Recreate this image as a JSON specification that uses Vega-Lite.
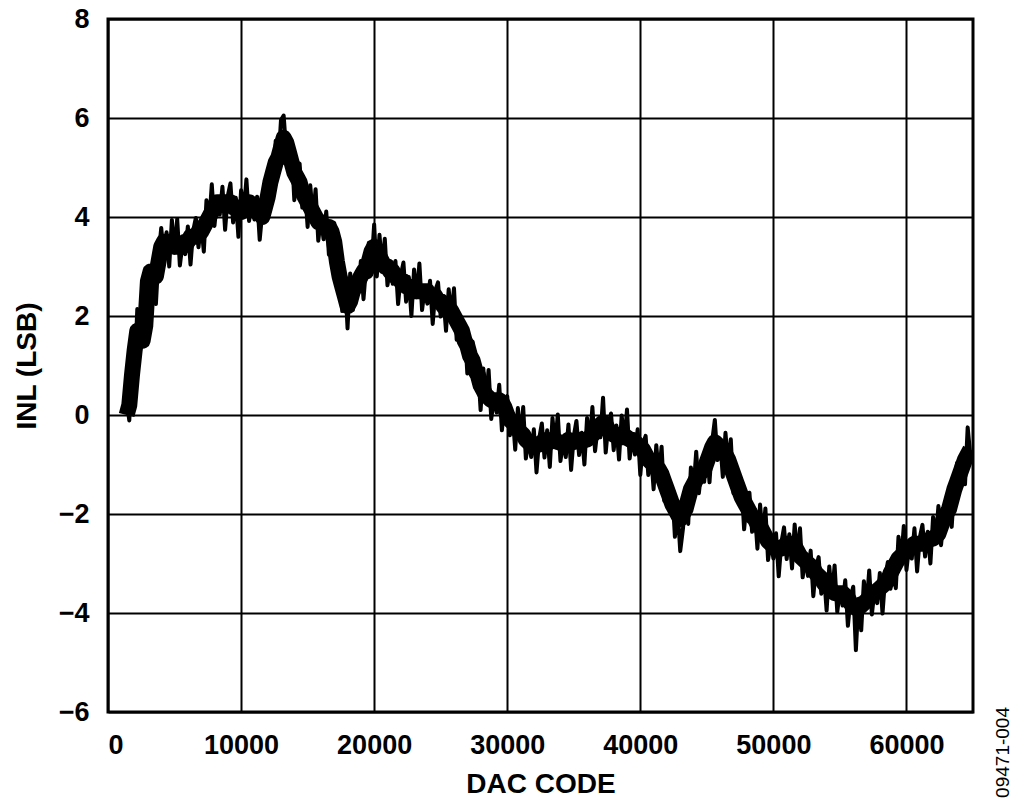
{
  "$schema": "https://vega.github.io/schema/vega-lite/v6.json",
  "width": 865,
  "height": 693,
  "autosize": {"type": "none"},
  "padding": {"left": 108, "top": 19, "right": 51, "bottom": 99},
  "background": "white",
  "title": {"text": "09471-004", "orient": "right", "anchor": "end", "angle": -90, "frame": "group", "align": "right", "baseline": "top", "dx": 5, "font": "Liberation Sans", "fontSize": 19, "fontWeight": "normal", "color": "black", "offset": 2},
  "config": {
    "view": {"stroke": "black", "strokeWidth": 3},
    "axis": {
      "grid": true, "gridColor": "black", "gridWidth": 2, "gridOpacity": 1,
      "domain": false, "ticks": false,
      "labelFont": "Liberation Sans", "labelFontSize": 27, "labelFontWeight": "bold", "labelColor": "black",
      "titleFont": "Liberation Sans", "titleFontSize": 28, "titleFontWeight": "bold", "titleColor": "black"
    }
  },
  "data": {"values": [
    {"x":1400,"t":0.0,"y":0.30},{"x":1600,"t":0.2,"y":-0.11},{"x":1800,"t":0.8,"y":0.99},{"x":2000,"t":1.3,"y":0.80},{"x":2200,"t":1.7,"y":2.14},{"x":2400,"t":1.6,"y":1.48},{"x":2600,"t":1.5,"y":2.06},{"x":2800,"t":1.8,"y":1.42},{"x":3000,"t":2.7,"y":2.76},{"x":3200,"t":2.9,"y":2.65},{"x":3400,"t":2.8,"y":3.11},{"x":3600,"t":2.8,"y":2.24},{"x":3800,"t":3.1,"y":3.22},
    {"x":4000,"t":3.4,"y":3.78},{"x":4200,"t":3.5,"y":3.19},{"x":4400,"t":3.5,"y":3.69},{"x":4600,"t":3.5,"y":3.00},{"x":4800,"t":3.5,"y":3.94},{"x":5000,"t":3.4,"y":3.28},{"x":5200,"t":3.4,"y":3.96},{"x":5400,"t":3.4,"y":3.02},{"x":5600,"t":3.4,"y":3.46},{"x":5800,"t":3.5,"y":3.25},{"x":6000,"t":3.5,"y":3.81},{"x":6200,"t":3.6,"y":3.04},{"x":6400,"t":3.6,"y":3.72},
    {"x":6600,"t":3.6,"y":3.98},{"x":6800,"t":3.7,"y":3.39},{"x":7000,"t":3.7,"y":3.89},{"x":7200,"t":3.8,"y":3.30},{"x":7400,"t":3.9,"y":4.34},{"x":7600,"t":4.0,"y":3.88},{"x":7800,"t":4.1,"y":4.66},{"x":8000,"t":4.2,"y":3.82},{"x":8200,"t":4.3,"y":4.36},{"x":8400,"t":4.3,"y":4.05},{"x":8600,"t":4.3,"y":4.61},{"x":8800,"t":4.3,"y":3.74},{"x":9000,"t":4.3,"y":4.42},
    {"x":9200,"t":4.3,"y":4.68},{"x":9400,"t":4.2,"y":3.89},{"x":9600,"t":4.2,"y":4.39},{"x":9800,"t":4.1,"y":3.60},{"x":10000,"t":4.1,"y":4.54},{"x":10200,"t":4.2,"y":4.08},{"x":10400,"t":4.2,"y":4.76},{"x":10600,"t":4.3,"y":3.92},{"x":10800,"t":4.2,"y":4.26},{"x":11000,"t":4.2,"y":3.95},{"x":11200,"t":4.1,"y":4.41},{"x":11400,"t":4.1,"y":3.54},{"x":11600,"t":4.0,"y":4.12},
    {"x":11800,"t":4.2,"y":4.58},{"x":12000,"t":4.4,"y":4.09},{"x":12200,"t":4.7,"y":4.89},{"x":12400,"t":4.9,"y":4.40},{"x":12600,"t":5.1,"y":5.54},{"x":12800,"t":5.2,"y":5.08},{"x":13000,"t":5.4,"y":5.96},{"x":13200,"t":5.6,"y":6.05},{"x":13400,"t":5.5,"y":5.30},{"x":13600,"t":5.3,"y":5.05},{"x":13800,"t":5.1,"y":5.41},{"x":14000,"t":4.9,"y":4.34},{"x":14200,"t":4.8,"y":4.92},
    {"x":14400,"t":4.7,"y":5.08},{"x":14600,"t":4.5,"y":4.19},{"x":14800,"t":4.4,"y":4.59},{"x":15000,"t":4.3,"y":3.80},{"x":15200,"t":4.2,"y":4.64},{"x":15400,"t":4.1,"y":3.98},{"x":15600,"t":4.0,"y":4.56},{"x":15800,"t":3.9,"y":3.52},{"x":16000,"t":3.9,"y":3.96},{"x":16200,"t":3.8,"y":3.55},{"x":16400,"t":3.8,"y":4.11},{"x":16600,"t":3.8,"y":3.24},{"x":16800,"t":3.7,"y":3.82},
    {"x":17000,"t":3.5,"y":3.88},{"x":17200,"t":3.1,"y":2.79},{"x":17400,"t":2.8,"y":2.99},{"x":17600,"t":2.6,"y":2.10},{"x":17800,"t":2.4,"y":2.84},{"x":18000,"t":2.2,"y":1.75},{"x":18200,"t":2.3,"y":2.86},{"x":18400,"t":2.5,"y":2.12},{"x":18600,"t":2.6,"y":2.66},{"x":18800,"t":2.7,"y":2.45},{"x":19000,"t":2.8,"y":3.11},{"x":19200,"t":2.9,"y":2.34},{"x":19400,"t":2.9,"y":3.02},
    {"x":19600,"t":3.1,"y":3.48},{"x":19800,"t":3.3,"y":2.99},{"x":20000,"t":3.4,"y":3.85},{"x":20200,"t":3.3,"y":2.80},{"x":20400,"t":3.2,"y":3.64},{"x":20600,"t":3.1,"y":2.98},{"x":20800,"t":3.0,"y":3.56},{"x":21000,"t":3.0,"y":2.62},{"x":21200,"t":2.9,"y":2.96},{"x":21400,"t":2.9,"y":2.65},{"x":21600,"t":2.8,"y":3.11},{"x":21800,"t":2.8,"y":2.24},{"x":22000,"t":2.7,"y":2.82},
    {"x":22200,"t":2.7,"y":3.08},{"x":22400,"t":2.6,"y":2.29},{"x":22600,"t":2.6,"y":2.79},{"x":22800,"t":2.5,"y":2.00},{"x":23000,"t":2.5,"y":2.94},{"x":23200,"t":2.5,"y":2.38},{"x":23400,"t":2.5,"y":3.06},{"x":23600,"t":2.5,"y":2.12},{"x":23800,"t":2.5,"y":2.56},{"x":24000,"t":2.5,"y":2.25},{"x":24200,"t":2.4,"y":2.71},{"x":24400,"t":2.4,"y":1.84},{"x":24600,"t":2.4,"y":2.52},
    {"x":24800,"t":2.3,"y":2.68},{"x":25000,"t":2.3,"y":1.99},{"x":25200,"t":2.2,"y":2.39},{"x":25400,"t":2.2,"y":1.70},{"x":25600,"t":2.1,"y":2.54},{"x":25800,"t":2.1,"y":1.98},{"x":26000,"t":2.0,"y":2.56},{"x":26200,"t":1.9,"y":1.52},{"x":26400,"t":1.8,"y":1.86},{"x":26600,"t":1.7,"y":1.45},{"x":26800,"t":1.5,"y":1.81},{"x":27000,"t":1.4,"y":0.84},{"x":27200,"t":1.2,"y":1.32},
    {"x":27400,"t":1.1,"y":1.48},{"x":27600,"t":0.9,"y":0.59},{"x":27800,"t":0.8,"y":0.99},{"x":28000,"t":0.6,"y":0.10},{"x":28200,"t":0.5,"y":0.94},{"x":28400,"t":0.4,"y":0.28},{"x":28600,"t":0.35,"y":0.91},{"x":28800,"t":0.3,"y":-0.08},{"x":29000,"t":0.3,"y":0.36},{"x":29200,"t":0.3,"y":0.05},{"x":29400,"t":0.3,"y":0.61},{"x":29600,"t":0.25,"y":-0.31},{"x":29800,"t":0.15,"y":0.27},
    {"x":30000,"t":0.0,"y":0.38},{"x":30200,"t":-0.1,"y":-0.41},{"x":30400,"t":-0.15,"y":0.04},{"x":30600,"t":-0.2,"y":-0.70},{"x":30800,"t":-0.3,"y":0.14},{"x":31000,"t":-0.35,"y":-0.47},{"x":31200,"t":-0.4,"y":0.16},{"x":31400,"t":-0.5,"y":-0.88},{"x":31600,"t":-0.55,"y":-0.49},{"x":31800,"t":-0.6,"y":-0.85},{"x":32000,"t":-0.6,"y":-0.29},{"x":32200,"t":-0.6,"y":-1.16},{"x":32400,"t":-0.6,"y":-0.48},
    {"x":32600,"t":-0.55,"y":-0.17},{"x":32800,"t":-0.55,"y":-0.86},{"x":33000,"t":-0.5,"y":-0.31},{"x":33200,"t":-0.55,"y":-1.05},{"x":33400,"t":-0.5,"y":-0.06},{"x":33600,"t":-0.5,"y":-0.62},{"x":33800,"t":-0.55,"y":0.01},{"x":34000,"t":-0.55,"y":-0.93},{"x":34200,"t":-0.6,"y":-0.54},{"x":34400,"t":-0.6,"y":-0.85},{"x":34600,"t":-0.5,"y":-0.19},{"x":34800,"t":-0.55,"y":-1.11},{"x":35000,"t":-0.55,"y":-0.43},
    {"x":35200,"t":-0.5,"y":-0.12},{"x":35400,"t":-0.5,"y":-0.81},{"x":35600,"t":-0.55,"y":-0.36},{"x":35800,"t":-0.5,"y":-1.00},{"x":36000,"t":-0.5,"y":-0.06},{"x":36200,"t":-0.45,"y":-0.57},{"x":36400,"t":-0.4,"y":0.16},{"x":36600,"t":-0.35,"y":-0.73},{"x":36800,"t":-0.3,"y":-0.24},{"x":37000,"t":-0.2,"y":-0.45},{"x":37200,"t":-0.15,"y":0.35},{"x":37400,"t":-0.2,"y":-0.76},{"x":37600,"t":-0.3,"y":-0.18},
    {"x":37800,"t":-0.35,"y":0.03},{"x":38000,"t":-0.4,"y":-0.71},{"x":38200,"t":-0.4,"y":-0.21},{"x":38400,"t":-0.4,"y":-0.90},{"x":38600,"t":-0.45,"y":-0.01},{"x":38800,"t":-0.45,"y":-0.57},{"x":39000,"t":-0.45,"y":0.11},{"x":39200,"t":-0.5,"y":-0.88},{"x":39400,"t":-0.5,"y":-0.44},{"x":39600,"t":-0.55,"y":-0.80},{"x":39800,"t":-0.6,"y":-0.29},{"x":40000,"t":-0.65,"y":-1.21},{"x":40200,"t":-0.7,"y":-0.58},
    {"x":40400,"t":-0.8,"y":-0.42},{"x":40600,"t":-0.9,"y":-1.21},{"x":40800,"t":-0.95,"y":-0.76},{"x":41000,"t":-1.0,"y":-1.50},{"x":41200,"t":-1.05,"y":-0.61},{"x":41400,"t":-1.1,"y":-1.22},{"x":41600,"t":-1.2,"y":-0.64},{"x":41800,"t":-1.35,"y":-1.73},{"x":42000,"t":-1.5,"y":-1.44},{"x":42200,"t":-1.65,"y":-1.90},{"x":42400,"t":-1.8,"y":-1.49},{"x":42600,"t":-1.9,"y":-2.46},{"x":42800,"t":-2.0,"y":-1.88},
    {"x":43000,"t":-2.1,"y":-2.75},{"x":43200,"t":-2.0,"y":-2.31},{"x":43400,"t":-1.9,"y":-1.71},{"x":43600,"t":-1.7,"y":-2.20},{"x":43800,"t":-1.5,"y":-1.06},{"x":44000,"t":-1.4,"y":-1.52},{"x":44200,"t":-1.3,"y":-0.74},{"x":44400,"t":-1.2,"y":-1.58},{"x":44600,"t":-1.15,"y":-1.09},{"x":44800,"t":-1.1,"y":-1.35},{"x":45000,"t":-0.95,"y":-0.64},{"x":45200,"t":-0.8,"y":-1.36},{"x":45400,"t":-0.65,"y":-0.53},
    {"x":45600,"t":-0.55,"y":-0.10},{"x":45800,"t":-0.6,"y":-0.91},{"x":46000,"t":-0.7,"y":-0.51},{"x":46200,"t":-0.75,"y":-1.25},{"x":46400,"t":-0.8,"y":-0.36},{"x":46600,"t":-0.9,"y":-1.02},{"x":46800,"t":-1.05,"y":-0.49},{"x":47000,"t":-1.2,"y":-1.58},{"x":47200,"t":-1.35,"y":-1.29},{"x":47400,"t":-1.5,"y":-1.75},{"x":47600,"t":-1.65,"y":-1.34},{"x":47800,"t":-1.75,"y":-2.31},{"x":48000,"t":-1.85,"y":-1.73},
    {"x":48200,"t":-1.95,"y":-1.57},{"x":48400,"t":-2.05,"y":-2.36},{"x":48600,"t":-2.1,"y":-1.91},{"x":48800,"t":-2.2,"y":-2.70},{"x":49000,"t":-2.25,"y":-1.81},{"x":49200,"t":-2.35,"y":-2.47},{"x":49400,"t":-2.45,"y":-1.89},{"x":49600,"t":-2.55,"y":-2.93},{"x":49800,"t":-2.6,"y":-2.54},{"x":50000,"t":-2.65,"y":-2.90},{"x":50200,"t":-2.7,"y":-2.39},{"x":50400,"t":-2.7,"y":-3.26},{"x":50600,"t":-2.7,"y":-2.58},
    {"x":50800,"t":-2.65,"y":-2.27},{"x":51000,"t":-2.6,"y":-2.91},{"x":51200,"t":-2.6,"y":-2.41},{"x":51400,"t":-2.6,"y":-3.10},{"x":51600,"t":-2.65,"y":-2.21},{"x":51800,"t":-2.75,"y":-2.87},{"x":52000,"t":-2.85,"y":-2.29},{"x":52200,"t":-2.9,"y":-3.28},{"x":52400,"t":-2.95,"y":-2.89},{"x":52600,"t":-3.0,"y":-3.25},{"x":52800,"t":-3.05,"y":-2.74},{"x":53000,"t":-3.1,"y":-3.66},{"x":53200,"t":-3.2,"y":-3.08},
    {"x":53400,"t":-3.25,"y":-2.87},{"x":53600,"t":-3.3,"y":-3.61},{"x":53800,"t":-3.4,"y":-3.21},{"x":54000,"t":-3.45,"y":-3.95},{"x":54200,"t":-3.5,"y":-3.06},{"x":54400,"t":-3.55,"y":-3.67},{"x":54600,"t":-3.6,"y":-3.04},{"x":54800,"t":-3.6,"y":-3.98},{"x":55000,"t":-3.6,"y":-3.54},{"x":55200,"t":-3.6,"y":-3.85},{"x":55400,"t":-3.65,"y":-3.34},{"x":55600,"t":-3.7,"y":-4.26},{"x":55800,"t":-3.8,"y":-3.68},
    {"x":56000,"t":-3.85,"y":-3.47},{"x":56200,"t":-3.9,"y":-4.75},{"x":56400,"t":-3.9,"y":-3.71},{"x":56600,"t":-3.85,"y":-4.35},{"x":56800,"t":-3.8,"y":-3.36},{"x":57000,"t":-3.75,"y":-3.87},{"x":57200,"t":-3.7,"y":-3.14},{"x":57400,"t":-3.65,"y":-4.03},{"x":57600,"t":-3.6,"y":-3.54},{"x":57800,"t":-3.55,"y":-3.80},{"x":58000,"t":-3.5,"y":-3.19},{"x":58200,"t":-3.45,"y":-4.01},{"x":58400,"t":-3.4,"y":-3.28},
    {"x":58600,"t":-3.35,"y":-2.97},{"x":58800,"t":-3.2,"y":-3.51},{"x":59000,"t":-3.1,"y":-2.91},{"x":59200,"t":-3.0,"y":-3.50},{"x":59400,"t":-2.9,"y":-2.46},{"x":59600,"t":-2.85,"y":-2.97},{"x":59800,"t":-2.8,"y":-2.24},{"x":60000,"t":-2.75,"y":-3.13},{"x":60200,"t":-2.7,"y":-2.64},{"x":60400,"t":-2.65,"y":-2.90},{"x":60600,"t":-2.6,"y":-2.29},{"x":60800,"t":-2.6,"y":-3.16},{"x":61000,"t":-2.6,"y":-2.48},
    {"x":61200,"t":-2.6,"y":-2.22},{"x":61400,"t":-2.55,"y":-2.86},{"x":61600,"t":-2.55,"y":-2.36},{"x":61800,"t":-2.5,"y":-3.00},{"x":62000,"t":-2.5,"y":-2.06},{"x":62200,"t":-2.45,"y":-2.57},{"x":62400,"t":-2.4,"y":-1.84},{"x":62600,"t":-2.25,"y":-2.63},{"x":62800,"t":-2.1,"y":-2.04},{"x":63000,"t":-2.0,"y":-2.25},{"x":63200,"t":-1.9,"y":-1.59},{"x":63400,"t":-1.7,"y":-2.26},{"x":63600,"t":-1.5,"y":-1.38},
    {"x":63800,"t":-1.35,"y":-0.97},{"x":64000,"t":-1.2,"y":-1.51},{"x":64200,"t":-1.05,"y":-0.86},{"x":64400,"t":-0.9,"y":-1.40},{"x":64600,"t":-0.8,"y":-0.25},{"x":64800,"t":-0.7,"y":-0.82}
  ]},
  "encoding": {
    "x": {"field": "x", "type": "quantitative",
      "scale": {"domain": [0, 65000], "nice": false, "zero": false},
      "axis": {"values": [0, 10000, 20000, 30000, 40000, 50000, 60000], "format": "d", "title": "DAC CODE", "labelPadding": 20, "labelBaseline": "top", "titleBaseline": "alphabetic", "titleY": 80, "titleX": 432.5}}
  },
  "layer": [
    {
      "mark": {"type": "line", "color": "black", "strokeWidth": 16, "strokeJoin": "round", "strokeCap": "butt", "clip": true},
      "encoding": {
        "y": {"field": "t", "type": "quantitative",
          "scale": {"domain": [-6, 8], "nice": false, "zero": false},
          "axis": {"values": [-6, -4, -2, 0, 2, 4, 6, 8], "title": "INL (LSB)", "labelPadding": 19, "titleAngle": -90, "titleBaseline": "alphabetic", "titleX": -73, "titleY": 346.5, "titleAlign": "center"}}
      }
    },
    {
      "mark": {"type": "line", "color": "black", "strokeWidth": 4, "strokeJoin": "round", "strokeCap": "round", "clip": true},
      "encoding": {
        "y": {"field": "y", "type": "quantitative"}
      }
    }
  ]
}
